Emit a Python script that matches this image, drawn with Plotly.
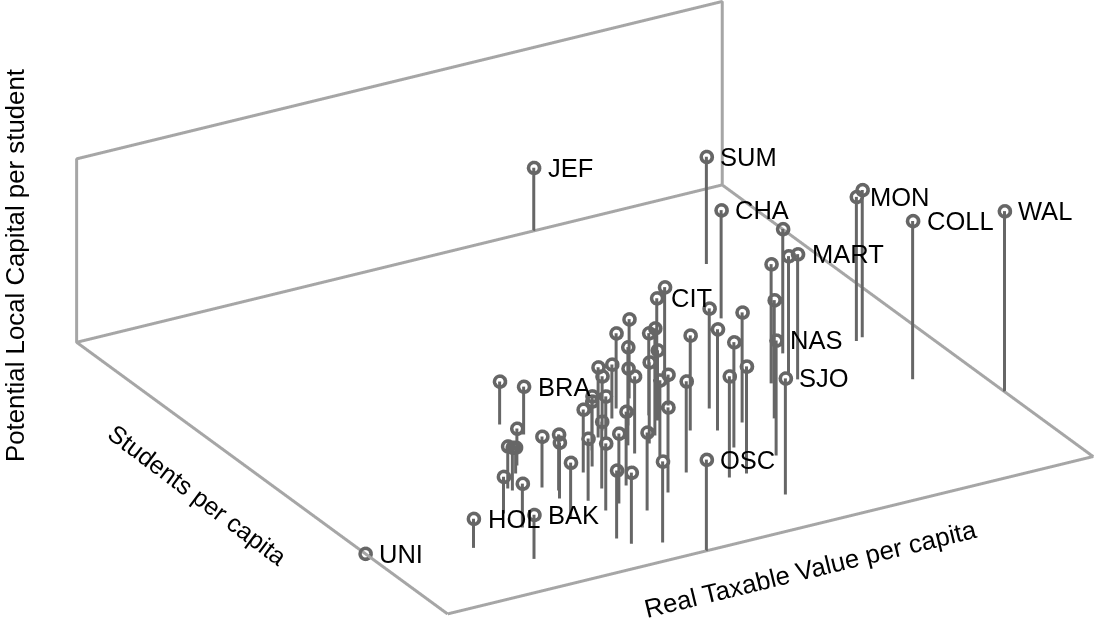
import plotly.graph_objects as go

taxable = [70.8,85.6,78.7,100,91.3,90.8,92.1,77.9,77.8,80.3,74.2,69.0,63.3,58.2,40.1,0,13.5,18.8,37.3,36.1,
 31.6,26.9,27.1,30.2,31.0,32.5,31.3,29.4,22.4,22.4,38.2,34.3,40.2,42.7,46.4,37.8,34.8,37.4,31.6,32.5,
 41.1,39.6,44.9,36.3,45.5,47.1,50.1,52.2,55.3,47.7,50.9,47.2,54.9,50.5,52.4,55.1,58.2,62.3,58.7,49.5,
 50.2,57.3,63.0,60.5,59.7,64.6,54.4,57.0]
students = [100,79.2,63.2,23.9,33.5,47.8,48.5,41.2,43.5,49.4,41.9,32.0,21.6,10.2,0,22.2,16.5,9.4,44.4,48.8,
 36.3,30.6,29.7,34.2,28.5,26.6,24.3,18.0,23.9,18.8,29.9,21.8,31.0,35.4,38.1,24.2,17.9,18.9,9.4,7.0,
 23.4,15.1,18.7,5.2,38.6,40.3,42.9,45.4,47.3,34.4,39.9,31.7,41.3,33.5,35.3,39.3,44.9,49.9,42.7,28.9,
 23.0,34.3,39.1,32.5,26.7,33.0,18.7,18.6]
capital = [34.4,58.5,59.0,98.4,86.3,78.7,80.3,68.3,63.9,67.8,65.0,64.5,62.8,63.4,49.7,0,15.9,24.0,26.2,23.5,
 20.2,23.0,23.5,14.2,27.9,30.6,30.6,30.6,20.2,24.0,34.4,33.9,38.3,26.8,22.4,36.6,36.6,38.3,37.2,38.8,
 40.4,42.6,46.4,44.3,38.3,29.5,29.5,41.0,43.2,53.6,31.1,42.1,44.8,44.3,58.5,38.3,55.7,50.8,16.9,42.1,
 49.7,51.9,54.6,55.2,57.4,60.1,55.2,58.5]
labels = ["JEF","SUM","CHA","WAL","COLL","MON","","MART","","","","","NAS","SJO","OSC","UNI","HOL","BAK","BRA","",
 "","","","","","","","","","","","","","","","","","","","",
 "","","","","","","","","","","","","","","","","CIT","","","",
 "","","","","","","",""]
axis_titles = ["Real Taxable Value per capita","Students per capita","Potential Local Capital per student"]

stem_x, stem_y, stem_z = [], [], []
for a, b, c in zip(taxable, students, capital):
    stem_x += [a, a, None]; stem_y += [b, b, None]; stem_z += [0, c, None]

fig = go.Figure()
box_x = [0,100,100,0,0,0,0,100,100]
box_y = [0,0,100,100,0,100,100,100,100]
box_z = [0,0,0,0,0,0,100,100,0]
fig.add_trace(go.Scatter3d(x=box_x,y=box_y,z=box_z,mode="lines",line=dict(color="#a6a6a6",width=6),showlegend=False,hoverinfo="skip"))
fig.add_trace(go.Scatter3d(x=stem_x,y=stem_y,z=stem_z,mode="lines",line=dict(color="#666666",width=6),showlegend=False,hoverinfo="skip"))
for ring in [8, 7.2, 6.4, 5.6]:
    fig.add_trace(go.Scatter3d(x=taxable,y=students,z=capital,mode="markers",
        marker=dict(symbol="circle-open",size=ring,color="#666666",line=dict(color="#666666",width=6)),showlegend=False))

FONT = dict(family="Liberation Sans, Arial, sans-serif",size=25.5,color="#000000")
scene_anns = [dict(x=a,y=b,z=c,text=t,showarrow=False,xanchor="left",yanchor="middle",xshift=12,font=FONT)
              for a,b,c,t in zip(taxable,students,capital,labels) if t]
ax = dict(visible=False,range=[0,100],showspikes=False)
def title(t,x,y,ang,size=25.8):
    return dict(text=t,x=x/1094,y=1-y/618,xref="paper",yref="paper",xanchor="center",yanchor="middle",showarrow=False,textangle=ang,font=dict(FONT,size=size))
Z = 2.412
fig.update_layout(width=1094,height=618,margin=dict(l=0,r=0,t=0,b=0),paper_bgcolor="white",autosize=False,
 annotations=[title(axis_titles[0],810,569,-13.7),title(axis_titles[1],198,494.5,37,25),title(axis_titles[2],15,266,-90)],
 scene=dict(domain=dict(x=[0,1],y=[0,1]),aspectmode="manual",aspectratio=dict(x=Z,y=0.99585*Z,z=0.27157*Z),
  xaxis=ax,yaxis=ax,zaxis=ax,annotations=scene_anns,
  camera=dict(projection=dict(type="orthographic"),eye=dict(x=-1.91867,y=-3.08026,z=1.68618),up=dict(x=0,y=0,z=1),center=dict(x=-0.10707,y=0.05974,z=-0.00382))))
fig.write_html("out.html", config={"displayModeBar": False}, post_script="document.body.style.margin='0';document.documentElement.style.overflow='hidden';")
